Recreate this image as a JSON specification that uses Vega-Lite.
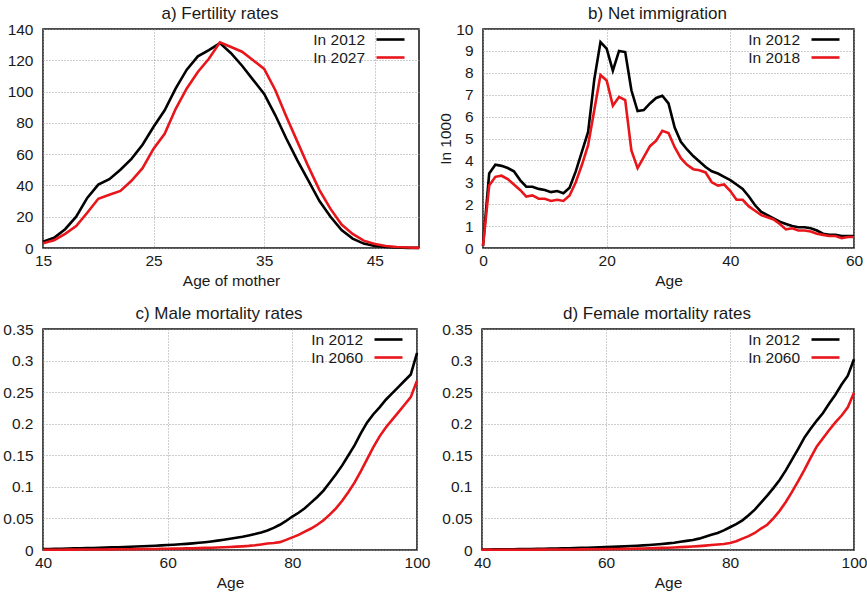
{
  "$schema": "https://vega.github.io/schema/vega-lite/v6.json",
  "background": "white",
  "padding": {"left": 2, "top": 4, "right": 3, "bottom": 3},
  "datasets": {
    "fert": [
      {"age":15,"series":"In 2012","value":4},{"age":16,"series":"In 2012","value":6.5},{"age":17,"series":"In 2012","value":12},{"age":18,"series":"In 2012","value":20},{"age":19,"series":"In 2012","value":32},{"age":20,"series":"In 2012","value":40.5},{"age":21,"series":"In 2012","value":44},{"age":22,"series":"In 2012","value":50},{"age":23,"series":"In 2012","value":57},{"age":24,"series":"In 2012","value":66},{"age":25,"series":"In 2012","value":77.5},{"age":26,"series":"In 2012","value":88},{"age":27,"series":"In 2012","value":102},{"age":28,"series":"In 2012","value":114},{"age":29,"series":"In 2012","value":122.5},{"age":30,"series":"In 2012","value":126.5},{"age":31,"series":"In 2012","value":131},{"age":32,"series":"In 2012","value":124.5},{"age":33,"series":"In 2012","value":116.5},{"age":34,"series":"In 2012","value":107.5},{"age":35,"series":"In 2012","value":98.5},{"age":36,"series":"In 2012","value":85},{"age":37,"series":"In 2012","value":70},{"age":38,"series":"In 2012","value":56},{"age":39,"series":"In 2012","value":43},{"age":40,"series":"In 2012","value":30},{"age":41,"series":"In 2012","value":20},{"age":42,"series":"In 2012","value":11.5},{"age":43,"series":"In 2012","value":6},{"age":44,"series":"In 2012","value":2.8},{"age":45,"series":"In 2012","value":1.3},{"age":46,"series":"In 2012","value":0.6},{"age":47,"series":"In 2012","value":0.3},{"age":48,"series":"In 2012","value":0.1},{"age":49,"series":"In 2012","value":0.05},
      {"age":15,"series":"In 2027","value":3},{"age":16,"series":"In 2027","value":5},{"age":17,"series":"In 2027","value":9},{"age":18,"series":"In 2027","value":14},{"age":19,"series":"In 2027","value":22.5},{"age":20,"series":"In 2027","value":31.5},{"age":21,"series":"In 2027","value":34},{"age":22,"series":"In 2027","value":36.5},{"age":23,"series":"In 2027","value":43},{"age":24,"series":"In 2027","value":51},{"age":25,"series":"In 2027","value":63.5},{"age":26,"series":"In 2027","value":73},{"age":27,"series":"In 2027","value":89},{"age":28,"series":"In 2027","value":102},{"age":29,"series":"In 2027","value":112.5},{"age":30,"series":"In 2027","value":121},{"age":31,"series":"In 2027","value":131.5},{"age":32,"series":"In 2027","value":128.5},{"age":33,"series":"In 2027","value":125.5},{"age":34,"series":"In 2027","value":120},{"age":35,"series":"In 2027","value":114.5},{"age":36,"series":"In 2027","value":101},{"age":37,"series":"In 2027","value":84},{"age":38,"series":"In 2027","value":68},{"age":39,"series":"In 2027","value":52},{"age":40,"series":"In 2027","value":37},{"age":41,"series":"In 2027","value":25},{"age":42,"series":"In 2027","value":15},{"age":43,"series":"In 2027","value":9},{"age":44,"series":"In 2027","value":4.7},{"age":45,"series":"In 2027","value":2.5},{"age":46,"series":"In 2027","value":1.3},{"age":47,"series":"In 2027","value":0.6},{"age":48,"series":"In 2027","value":0.3},{"age":49,"series":"In 2027","value":0.1}
    ],
    "immig": [
      {"age":0,"series":"In 2012","value":0.1},{"age":1,"series":"In 2012","value":3.4},{"age":2,"series":"In 2012","value":3.8},{"age":3,"series":"In 2012","value":3.75},{"age":4,"series":"In 2012","value":3.65},{"age":5,"series":"In 2012","value":3.5},{"age":6,"series":"In 2012","value":3.1},{"age":7,"series":"In 2012","value":2.8},{"age":8,"series":"In 2012","value":2.8},{"age":9,"series":"In 2012","value":2.7},{"age":10,"series":"In 2012","value":2.65},{"age":11,"series":"In 2012","value":2.55},{"age":12,"series":"In 2012","value":2.6},{"age":13,"series":"In 2012","value":2.5},{"age":14,"series":"In 2012","value":2.75},{"age":15,"series":"In 2012","value":3.5},{"age":16,"series":"In 2012","value":4.4},{"age":17,"series":"In 2012","value":5.3},{"age":18,"series":"In 2012","value":7.7},{"age":19,"series":"In 2012","value":9.4},{"age":20,"series":"In 2012","value":9.1},{"age":21,"series":"In 2012","value":8.1},{"age":22,"series":"In 2012","value":9.0},{"age":23,"series":"In 2012","value":8.95},{"age":24,"series":"In 2012","value":7.2},{"age":25,"series":"In 2012","value":6.25},{"age":26,"series":"In 2012","value":6.3},{"age":27,"series":"In 2012","value":6.6},{"age":28,"series":"In 2012","value":6.85},{"age":29,"series":"In 2012","value":6.95},{"age":30,"series":"In 2012","value":6.6},{"age":31,"series":"In 2012","value":5.5},{"age":32,"series":"In 2012","value":4.85},{"age":33,"series":"In 2012","value":4.5},{"age":34,"series":"In 2012","value":4.2},{"age":35,"series":"In 2012","value":3.95},{"age":36,"series":"In 2012","value":3.7},{"age":37,"series":"In 2012","value":3.5},{"age":38,"series":"In 2012","value":3.4},{"age":39,"series":"In 2012","value":3.25},{"age":40,"series":"In 2012","value":3.1},{"age":41,"series":"In 2012","value":2.9},{"age":42,"series":"In 2012","value":2.7},{"age":43,"series":"In 2012","value":2.35},{"age":44,"series":"In 2012","value":1.95},{"age":45,"series":"In 2012","value":1.65},{"age":46,"series":"In 2012","value":1.5},{"age":47,"series":"In 2012","value":1.35},{"age":48,"series":"In 2012","value":1.2},{"age":49,"series":"In 2012","value":1.1},{"age":50,"series":"In 2012","value":1.0},{"age":51,"series":"In 2012","value":0.95},{"age":52,"series":"In 2012","value":0.95},{"age":53,"series":"In 2012","value":0.9},{"age":54,"series":"In 2012","value":0.8},{"age":55,"series":"In 2012","value":0.65},{"age":56,"series":"In 2012","value":0.6},{"age":57,"series":"In 2012","value":0.6},{"age":58,"series":"In 2012","value":0.55},{"age":59,"series":"In 2012","value":0.55},{"age":60,"series":"In 2012","value":0.55},
      {"age":0,"series":"In 2018","value":0.1},{"age":1,"series":"In 2018","value":2.85},{"age":2,"series":"In 2018","value":3.25},{"age":3,"series":"In 2018","value":3.3},{"age":4,"series":"In 2018","value":3.15},{"age":5,"series":"In 2018","value":2.9},{"age":6,"series":"In 2018","value":2.65},{"age":7,"series":"In 2018","value":2.35},{"age":8,"series":"In 2018","value":2.4},{"age":9,"series":"In 2018","value":2.25},{"age":10,"series":"In 2018","value":2.25},{"age":11,"series":"In 2018","value":2.15},{"age":12,"series":"In 2018","value":2.2},{"age":13,"series":"In 2018","value":2.15},{"age":14,"series":"In 2018","value":2.4},{"age":15,"series":"In 2018","value":3.0},{"age":16,"series":"In 2018","value":3.8},{"age":17,"series":"In 2018","value":4.7},{"age":18,"series":"In 2018","value":6.3},{"age":19,"series":"In 2018","value":7.9},{"age":20,"series":"In 2018","value":7.65},{"age":21,"series":"In 2018","value":6.5},{"age":22,"series":"In 2018","value":6.9},{"age":23,"series":"In 2018","value":6.75},{"age":24,"series":"In 2018","value":4.45},{"age":25,"series":"In 2018","value":3.65},{"age":26,"series":"In 2018","value":4.15},{"age":27,"series":"In 2018","value":4.65},{"age":28,"series":"In 2018","value":4.9},{"age":29,"series":"In 2018","value":5.35},{"age":30,"series":"In 2018","value":5.25},{"age":31,"series":"In 2018","value":4.6},{"age":32,"series":"In 2018","value":4.1},{"age":33,"series":"In 2018","value":3.8},{"age":34,"series":"In 2018","value":3.6},{"age":35,"series":"In 2018","value":3.55},{"age":36,"series":"In 2018","value":3.45},{"age":37,"series":"In 2018","value":3.0},{"age":38,"series":"In 2018","value":2.85},{"age":39,"series":"In 2018","value":2.9},{"age":40,"series":"In 2018","value":2.6},{"age":41,"series":"In 2018","value":2.2},{"age":42,"series":"In 2018","value":2.2},{"age":43,"series":"In 2018","value":1.9},{"age":44,"series":"In 2018","value":1.7},{"age":45,"series":"In 2018","value":1.5},{"age":46,"series":"In 2018","value":1.4},{"age":47,"series":"In 2018","value":1.3},{"age":48,"series":"In 2018","value":1.1},{"age":49,"series":"In 2018","value":0.85},{"age":50,"series":"In 2018","value":0.9},{"age":51,"series":"In 2018","value":0.8},{"age":52,"series":"In 2018","value":0.8},{"age":53,"series":"In 2018","value":0.75},{"age":54,"series":"In 2018","value":0.65},{"age":55,"series":"In 2018","value":0.6},{"age":56,"series":"In 2018","value":0.55},{"age":57,"series":"In 2018","value":0.55},{"age":58,"series":"In 2018","value":0.45},{"age":59,"series":"In 2018","value":0.5},{"age":60,"series":"In 2018","value":0.5}
    ],
    "male": [
      {"age":40,"series":"In 2012","value":0.0015},{"age":41,"series":"In 2012","value":0.0016},{"age":42,"series":"In 2012","value":0.0018},{"age":43,"series":"In 2012","value":0.002},{"age":44,"series":"In 2012","value":0.0022},{"age":45,"series":"In 2012","value":0.0025},{"age":46,"series":"In 2012","value":0.0027},{"age":47,"series":"In 2012","value":0.003},{"age":48,"series":"In 2012","value":0.0032},{"age":49,"series":"In 2012","value":0.0035},{"age":50,"series":"In 2012","value":0.0038},{"age":51,"series":"In 2012","value":0.0041},{"age":52,"series":"In 2012","value":0.0044},{"age":53,"series":"In 2012","value":0.0048},{"age":54,"series":"In 2012","value":0.0052},{"age":55,"series":"In 2012","value":0.0056},{"age":56,"series":"In 2012","value":0.006},{"age":57,"series":"In 2012","value":0.0064},{"age":58,"series":"In 2012","value":0.0068},{"age":59,"series":"In 2012","value":0.0073},{"age":60,"series":"In 2012","value":0.0078},{"age":61,"series":"In 2012","value":0.0084},{"age":62,"series":"In 2012","value":0.009},{"age":63,"series":"In 2012","value":0.0097},{"age":64,"series":"In 2012","value":0.0105},{"age":65,"series":"In 2012","value":0.0114},{"age":66,"series":"In 2012","value":0.0124},{"age":67,"series":"In 2012","value":0.0135},{"age":68,"series":"In 2012","value":0.0148},{"age":69,"series":"In 2012","value":0.0162},{"age":70,"series":"In 2012","value":0.0177},{"age":71,"series":"In 2012","value":0.0193},{"age":72,"series":"In 2012","value":0.021},{"age":73,"series":"In 2012","value":0.023},{"age":74,"series":"In 2012","value":0.0252},{"age":75,"series":"In 2012","value":0.0278},{"age":76,"series":"In 2012","value":0.031},{"age":77,"series":"In 2012","value":0.035},{"age":78,"series":"In 2012","value":0.04},{"age":79,"series":"In 2012","value":0.046},{"age":80,"series":"In 2012","value":0.053},{"age":81,"series":"In 2012","value":0.059},{"age":82,"series":"In 2012","value":0.066},{"age":83,"series":"In 2012","value":0.075},{"age":84,"series":"In 2012","value":0.084},{"age":85,"series":"In 2012","value":0.094},{"age":86,"series":"In 2012","value":0.107},{"age":87,"series":"In 2012","value":0.12},{"age":88,"series":"In 2012","value":0.134},{"age":89,"series":"In 2012","value":0.15},{"age":90,"series":"In 2012","value":0.166},{"age":91,"series":"In 2012","value":0.185},{"age":92,"series":"In 2012","value":0.202},{"age":93,"series":"In 2012","value":0.215},{"age":94,"series":"In 2012","value":0.226},{"age":95,"series":"In 2012","value":0.238},{"age":96,"series":"In 2012","value":0.248},{"age":97,"series":"In 2012","value":0.258},{"age":98,"series":"In 2012","value":0.268},{"age":99,"series":"In 2012","value":0.278},{"age":100,"series":"In 2012","value":0.312},
      {"age":40,"series":"In 2060","value":0.0004},{"age":41,"series":"In 2060","value":0.0004},{"age":42,"series":"In 2060","value":0.0005},{"age":43,"series":"In 2060","value":0.0005},{"age":44,"series":"In 2060","value":0.0006},{"age":45,"series":"In 2060","value":0.0006},{"age":46,"series":"In 2060","value":0.0007},{"age":47,"series":"In 2060","value":0.0007},{"age":48,"series":"In 2060","value":0.0008},{"age":49,"series":"In 2060","value":0.0008},{"age":50,"series":"In 2060","value":0.0009},{"age":51,"series":"In 2060","value":0.001},{"age":52,"series":"In 2060","value":0.0011},{"age":53,"series":"In 2060","value":0.0012},{"age":54,"series":"In 2060","value":0.0013},{"age":55,"series":"In 2060","value":0.0014},{"age":56,"series":"In 2060","value":0.0015},{"age":57,"series":"In 2060","value":0.0016},{"age":58,"series":"In 2060","value":0.0017},{"age":59,"series":"In 2060","value":0.0019},{"age":60,"series":"In 2060","value":0.002},{"age":61,"series":"In 2060","value":0.0022},{"age":62,"series":"In 2060","value":0.0024},{"age":63,"series":"In 2060","value":0.0026},{"age":64,"series":"In 2060","value":0.0028},{"age":65,"series":"In 2060","value":0.003},{"age":66,"series":"In 2060","value":0.0033},{"age":67,"series":"In 2060","value":0.0036},{"age":68,"series":"In 2060","value":0.004},{"age":69,"series":"In 2060","value":0.0044},{"age":70,"series":"In 2060","value":0.0048},{"age":71,"series":"In 2060","value":0.0053},{"age":72,"series":"In 2060","value":0.0058},{"age":73,"series":"In 2060","value":0.0065},{"age":74,"series":"In 2060","value":0.0075},{"age":75,"series":"In 2060","value":0.0088},{"age":76,"series":"In 2060","value":0.0102},{"age":77,"series":"In 2060","value":0.0112},{"age":78,"series":"In 2060","value":0.0125},{"age":79,"series":"In 2060","value":0.016},{"age":80,"series":"In 2060","value":0.02},{"age":81,"series":"In 2060","value":0.024},{"age":82,"series":"In 2060","value":0.029},{"age":83,"series":"In 2060","value":0.034},{"age":84,"series":"In 2060","value":0.04},{"age":85,"series":"In 2060","value":0.047},{"age":86,"series":"In 2060","value":0.056},{"age":87,"series":"In 2060","value":0.066},{"age":88,"series":"In 2060","value":0.078},{"age":89,"series":"In 2060","value":0.092},{"age":90,"series":"In 2060","value":0.107},{"age":91,"series":"In 2060","value":0.125},{"age":92,"series":"In 2060","value":0.144},{"age":93,"series":"In 2060","value":0.163},{"age":94,"series":"In 2060","value":0.18},{"age":95,"series":"In 2060","value":0.194},{"age":96,"series":"In 2060","value":0.206},{"age":97,"series":"In 2060","value":0.218},{"age":98,"series":"In 2060","value":0.23},{"age":99,"series":"In 2060","value":0.242},{"age":100,"series":"In 2060","value":0.268}
    ],
    "female": [
      {"age":40,"series":"In 2012","value":0.0008},{"age":41,"series":"In 2012","value":0.0009},{"age":42,"series":"In 2012","value":0.001},{"age":43,"series":"In 2012","value":0.0011},{"age":44,"series":"In 2012","value":0.0012},{"age":45,"series":"In 2012","value":0.0013},{"age":46,"series":"In 2012","value":0.0014},{"age":47,"series":"In 2012","value":0.0016},{"age":48,"series":"In 2012","value":0.0017},{"age":49,"series":"In 2012","value":0.0019},{"age":50,"series":"In 2012","value":0.002},{"age":51,"series":"In 2012","value":0.0022},{"age":52,"series":"In 2012","value":0.0024},{"age":53,"series":"In 2012","value":0.0026},{"age":54,"series":"In 2012","value":0.0028},{"age":55,"series":"In 2012","value":0.003},{"age":56,"series":"In 2012","value":0.0033},{"age":57,"series":"In 2012","value":0.0036},{"age":58,"series":"In 2012","value":0.0039},{"age":59,"series":"In 2012","value":0.0042},{"age":60,"series":"In 2012","value":0.0046},{"age":61,"series":"In 2012","value":0.005},{"age":62,"series":"In 2012","value":0.0054},{"age":63,"series":"In 2012","value":0.0058},{"age":64,"series":"In 2012","value":0.0063},{"age":65,"series":"In 2012","value":0.0068},{"age":66,"series":"In 2012","value":0.0073},{"age":67,"series":"In 2012","value":0.0079},{"age":68,"series":"In 2012","value":0.0086},{"age":69,"series":"In 2012","value":0.0095},{"age":70,"series":"In 2012","value":0.0105},{"age":71,"series":"In 2012","value":0.0115},{"age":72,"series":"In 2012","value":0.013},{"age":73,"series":"In 2012","value":0.0145},{"age":74,"series":"In 2012","value":0.0158},{"age":75,"series":"In 2012","value":0.018},{"age":76,"series":"In 2012","value":0.021},{"age":77,"series":"In 2012","value":0.024},{"age":78,"series":"In 2012","value":0.027},{"age":79,"series":"In 2012","value":0.031},{"age":80,"series":"In 2012","value":0.036},{"age":81,"series":"In 2012","value":0.041},{"age":82,"series":"In 2012","value":0.047},{"age":83,"series":"In 2012","value":0.055},{"age":84,"series":"In 2012","value":0.064},{"age":85,"series":"In 2012","value":0.075},{"age":86,"series":"In 2012","value":0.086},{"age":87,"series":"In 2012","value":0.098},{"age":88,"series":"In 2012","value":0.111},{"age":89,"series":"In 2012","value":0.126},{"age":90,"series":"In 2012","value":0.143},{"age":91,"series":"In 2012","value":0.16},{"age":92,"series":"In 2012","value":0.178},{"age":93,"series":"In 2012","value":0.192},{"age":94,"series":"In 2012","value":0.205},{"age":95,"series":"In 2012","value":0.217},{"age":96,"series":"In 2012","value":0.232},{"age":97,"series":"In 2012","value":0.246},{"age":98,"series":"In 2012","value":0.262},{"age":99,"series":"In 2012","value":0.276},{"age":100,"series":"In 2012","value":0.302},
      {"age":40,"series":"In 2060","value":0.0003},{"age":41,"series":"In 2060","value":0.0003},{"age":42,"series":"In 2060","value":0.0003},{"age":43,"series":"In 2060","value":0.0004},{"age":44,"series":"In 2060","value":0.0004},{"age":45,"series":"In 2060","value":0.0004},{"age":46,"series":"In 2060","value":0.0005},{"age":47,"series":"In 2060","value":0.0005},{"age":48,"series":"In 2060","value":0.0005},{"age":49,"series":"In 2060","value":0.0006},{"age":50,"series":"In 2060","value":0.0006},{"age":51,"series":"In 2060","value":0.0007},{"age":52,"series":"In 2060","value":0.0007},{"age":53,"series":"In 2060","value":0.0008},{"age":54,"series":"In 2060","value":0.0008},{"age":55,"series":"In 2060","value":0.0009},{"age":56,"series":"In 2060","value":0.001},{"age":57,"series":"In 2060","value":0.0011},{"age":58,"series":"In 2060","value":0.0012},{"age":59,"series":"In 2060","value":0.0013},{"age":60,"series":"In 2060","value":0.0014},{"age":61,"series":"In 2060","value":0.0015},{"age":62,"series":"In 2060","value":0.0017},{"age":63,"series":"In 2060","value":0.0018},{"age":64,"series":"In 2060","value":0.002},{"age":65,"series":"In 2060","value":0.0022},{"age":66,"series":"In 2060","value":0.0024},{"age":67,"series":"In 2060","value":0.0027},{"age":68,"series":"In 2060","value":0.003},{"age":69,"series":"In 2060","value":0.0033},{"age":70,"series":"In 2060","value":0.0036},{"age":71,"series":"In 2060","value":0.004},{"age":72,"series":"In 2060","value":0.0045},{"age":73,"series":"In 2060","value":0.005},{"age":74,"series":"In 2060","value":0.0055},{"age":75,"series":"In 2060","value":0.0062},{"age":76,"series":"In 2060","value":0.007},{"age":77,"series":"In 2060","value":0.0078},{"age":78,"series":"In 2060","value":0.0086},{"age":79,"series":"In 2060","value":0.0095},{"age":80,"series":"In 2060","value":0.011},{"age":81,"series":"In 2060","value":0.014},{"age":82,"series":"In 2060","value":0.018},{"age":83,"series":"In 2060","value":0.022},{"age":84,"series":"In 2060","value":0.027},{"age":85,"series":"In 2060","value":0.034},{"age":86,"series":"In 2060","value":0.04},{"age":87,"series":"In 2060","value":0.05},{"age":88,"series":"In 2060","value":0.062},{"age":89,"series":"In 2060","value":0.076},{"age":90,"series":"In 2060","value":0.092},{"age":91,"series":"In 2060","value":0.109},{"age":92,"series":"In 2060","value":0.127},{"age":93,"series":"In 2060","value":0.146},{"age":94,"series":"In 2060","value":0.164},{"age":95,"series":"In 2060","value":0.177},{"age":96,"series":"In 2060","value":0.19},{"age":97,"series":"In 2060","value":0.202},{"age":98,"series":"In 2060","value":0.213},{"age":99,"series":"In 2060","value":0.226},{"age":100,"series":"In 2060","value":0.249}
    ]
  },
  "config": {
    "font": "Liberation Sans",
    "view": {"stroke": "#111111", "strokeWidth": 1.5},
    "axis": {
      "labelFont": "Liberation Sans", "labelFontSize": 15.5, "labelColor": "#1a1a1a",
      "titleFont": "Liberation Sans", "titleFontSize": 15.5, "titleFontWeight": "normal", "titleColor": "#1a1a1a",
      "domain": false, "ticks": false,
      "grid": true, "gridColor": "#9a9a9a", "gridDash": [1, 2], "gridWidth": 1, "gridOpacity": 1,
      "labelPadding": 10, "labelFlush": false, "labelOverlap": false
    },
    "axisX": {"labelPadding": 5, "titlePadding": 5},
    "axisY": {"titlePadding": 2},
    "title": {"font": "Liberation Sans", "fontSize": 17, "fontWeight": "normal", "color": "#1a1a1a", "anchor": "middle", "dx": -11, "offset": -1, "baseline": "bottom"},
    "line": {"strokeWidth": 2.6}
  },
  "resolve": {"scale": {"color": "independent"}},
  "columns": 1,
  "align": "none",
  "spacing": 14,
  "concat": [
    {
      "spacing": 13,
      "resolve": {"scale": {"color": "independent"}},
      "hconcat": [
        {
          "title": "a) Fertility rates",
          "width": 376, "height": 219,
          "data": {"name": "fert"},
          "mark": {"type": "line"},
          "encoding": {
            "x": {"field": "age", "type": "quantitative", "scale": {"domain": [15, 49], "nice": false}, "axis": {"values": [15, 25, 35, 45], "title": "Age of mother"}},
            "y": {"field": "value", "type": "quantitative", "scale": {"domain": [0, 140], "nice": false}, "axis": {"values": [0, 20, 40, 60, 80, 100, 120, 140], "title": null}},
            "color": {"field": "series", "type": "nominal", "scale": {"domain": ["In 2012", "In 2027"], "range": ["#000000", "#e8161b"]},
              "legend": {"title": null, "orient": "top-right", "offset": 2, "padding": 0, "labelFont": "Liberation Sans", "labelFontSize": 15.5, "labelColor": "#1a1a1a", "labelAlign": "right", "labelOffset": -34, "symbolType": "M-2,0H2M3,0", "symbolSize": 196, "symbolStrokeWidth": 3, "rowPadding": 1}}
          }
        },
        {
          "title": "b) Net immigration",
          "width": 371, "height": 219,
          "data": {"name": "immig"},
          "mark": {"type": "line"},
          "encoding": {
            "x": {"field": "age", "type": "quantitative", "scale": {"domain": [0, 60], "nice": false}, "axis": {"values": [0, 20, 40, 60], "title": "Age"}},
            "y": {"field": "value", "type": "quantitative", "scale": {"domain": [0, 10], "nice": false}, "axis": {"values": [0, 1, 2, 3, 4, 5, 6, 7, 8, 9, 10], "title": "In 1000"}},
            "color": {"field": "series", "type": "nominal", "scale": {"domain": ["In 2012", "In 2018"], "range": ["#000000", "#e8161b"]},
              "legend": {"title": null, "orient": "top-right", "offset": 2, "padding": 0, "labelFont": "Liberation Sans", "labelFontSize": 15.5, "labelColor": "#1a1a1a", "labelAlign": "right", "labelOffset": -34, "symbolType": "M-2,0H2M3,0", "symbolSize": 196, "symbolStrokeWidth": 3, "rowPadding": 1}}
          }
        }
      ]
    },
    {
      "spacing": 10,
      "resolve": {"scale": {"color": "independent"}},
      "hconcat": [
        {
          "title": "c) Male mortality rates",
          "width": 374, "height": 221,
          "data": {"name": "male"},
          "mark": {"type": "line"},
          "encoding": {
            "x": {"field": "age", "type": "quantitative", "scale": {"domain": [40, 100], "nice": false}, "axis": {"values": [40, 60, 80, 100], "title": "Age"}},
            "y": {"field": "value", "type": "quantitative", "scale": {"domain": [0, 0.35], "nice": false}, "axis": {"values": [0, 0.05, 0.1, 0.15, 0.2, 0.25, 0.3, 0.35], "format": "~g", "title": null}},
            "color": {"field": "series", "type": "nominal", "scale": {"domain": ["In 2012", "In 2060"], "range": ["#000000", "#e8161b"]},
              "legend": {"title": null, "orient": "top-right", "offset": 2, "padding": 0, "labelFont": "Liberation Sans", "labelFontSize": 15.5, "labelColor": "#1a1a1a", "labelAlign": "right", "labelOffset": -34, "symbolType": "M-2,0H2M3,0", "symbolSize": 196, "symbolStrokeWidth": 3, "rowPadding": 1}}
          }
        },
        {
          "title": "d) Female mortality rates",
          "width": 372, "height": 221,
          "data": {"name": "female"},
          "mark": {"type": "line"},
          "encoding": {
            "x": {"field": "age", "type": "quantitative", "scale": {"domain": [40, 100], "nice": false}, "axis": {"values": [40, 60, 80, 100], "title": "Age"}},
            "y": {"field": "value", "type": "quantitative", "scale": {"domain": [0, 0.35], "nice": false}, "axis": {"values": [0, 0.05, 0.1, 0.15, 0.2, 0.25, 0.3, 0.35], "format": "~g", "title": null}},
            "color": {"field": "series", "type": "nominal", "scale": {"domain": ["In 2012", "In 2060"], "range": ["#000000", "#e8161b"]},
              "legend": {"title": null, "orient": "top-right", "offset": 2, "padding": 0, "labelFont": "Liberation Sans", "labelFontSize": 15.5, "labelColor": "#1a1a1a", "labelAlign": "right", "labelOffset": -34, "symbolType": "M-2,0H2M3,0", "symbolSize": 196, "symbolStrokeWidth": 3, "rowPadding": 1}}
          }
        }
      ]
    }
  ]
}
